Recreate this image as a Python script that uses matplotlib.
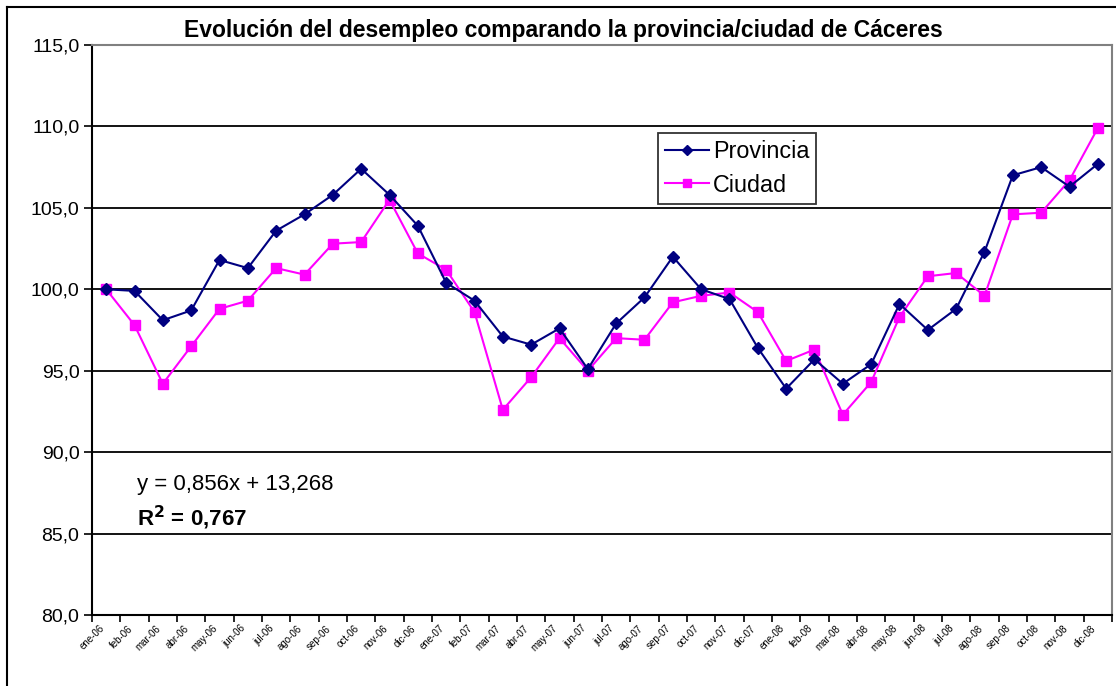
import matplotlib
matplotlib.use("Agg")
import matplotlib.pyplot as plt
from matplotlib.ticker import FuncFormatter, FixedLocator
from matplotlib.lines import Line2D

plt.rcParams['font.family'] = ['Liberation Sans', 'DejaVu Sans']

# month labels (3 years)
meses = ["ene", "feb", "mar", "abr", "may", "jun", "jul", "ago", "sep", "oct", "nov", "dic"]
anios = ["06", "07", "08"]
etiquetas = [m + "-" + a for a in anios for m in meses]

provincia = [100.0, 99.9, 98.1, 98.7, 101.8, 101.3, 103.6, 104.6, 105.8, 107.4,
             105.8, 103.9, 100.4, 99.3, 97.1, 96.6, 97.6, 95.1, 97.9, 99.5,
             102.0, 100.0, 99.4, 96.4, 93.9, 95.7, 94.2, 95.4, 99.1, 97.5,
             98.8, 102.3, 107.0, 107.5, 106.3, 107.7]
ciudad = [100.0, 97.8, 94.2, 96.5, 98.8, 99.3, 101.3, 100.9, 102.8, 102.9,
          105.5, 102.2, 101.2, 98.6, 92.6, 94.6, 97.0, 95.0, 97.0, 96.9,
          99.2, 99.6, 99.8, 98.6, 95.6, 96.3, 92.3, 94.3, 98.3, 100.8,
          101.0, 99.6, 104.6, 104.7, 106.7, 109.9]

x = list(range(len(etiquetas)))

fig = plt.figure(figsize=(11.16, 6.86), dpi=100)
ax = fig.add_axes([92/1116, 1 - 615/686, (1112 - 92)/1116, (615 - 45)/686])

for y in range(85, 111, 5):
    ax.axhline(y, color='black', linewidth=1.3, zorder=1)

ax.plot(x, provincia, color='#000080', marker='D', markersize=6, linewidth=1.5,
        label='Provincia', zorder=3)
ax.plot(x, ciudad, color='#FF00FF', marker='s', markersize=6.5, linewidth=1.5,
        label='Ciudad', zorder=2)

ax.set_xlim(-0.5, len(x) - 0.5)
ax.set_ylim(80, 115)
ax.yaxis.set_major_locator(FixedLocator(range(80, 116, 5)))
ax.yaxis.set_major_formatter(FuncFormatter(lambda v, p: ("%.1f" % v).replace(".", ",")))
ax.tick_params(axis='y', labelsize=14, length=6, width=1.2, direction='out', pad=3)

ax.set_xticks(x)
ax.set_xticklabels(etiquetas, rotation=45, ha='right', fontsize=7)
ax.set_xticks([i - 0.5 for i in range(len(x) + 1)], minor=True)
ax.tick_params(axis='x', which='major', length=0, pad=6)
ax.tick_params(axis='x', which='minor', length=5, width=1.2, direction='out')

ax.spines['top'].set_color('#808080')
ax.spines['top'].set_linewidth(1.5)
ax.spines['right'].set_color('#808080')
ax.spines['right'].set_linewidth(1.5)
ax.spines['left'].set_linewidth(1.5)
ax.spines['bottom'].set_linewidth(1.5)

ax.text(1.08, 87.65, "y = 0,856x + 13,268", fontsize=16)
ax.text(1.08, 85.5, r"R$^{\mathbf{2}}$ = 0,767", fontsize=16, fontweight='bold')

leg = ax.legend(loc='upper left', bbox_to_anchor=((658 - 92)/1020, (615 - 133)/570),
                fontsize=16.8, frameon=True, fancybox=False, edgecolor='black',
                handlelength=1.9, handletextpad=0.15, borderpad=0.3, labelspacing=0.45,
                borderaxespad=0, markerscale=0.85)
leg.get_frame().set_linewidth(1.3)

fig.text(563/1116, 1 - 30/686, "Evolución del desempleo comparando la provincia/ciudad de Cáceres",
         ha='center', va='center', fontsize=16.5, fontweight='bold')

# chart area border (only left and top visible in the crop)
fig.add_artist(Line2D([7/1116, 7/1116], [0, 1 - 7/686], transform=fig.transFigure,
                      color='black', linewidth=1.5))
fig.add_artist(Line2D([7/1116, 1], [1 - 7/686, 1 - 7/686], transform=fig.transFigure,
                      color='black', linewidth=1.5))

fig.savefig("out.png", dpi=100)
